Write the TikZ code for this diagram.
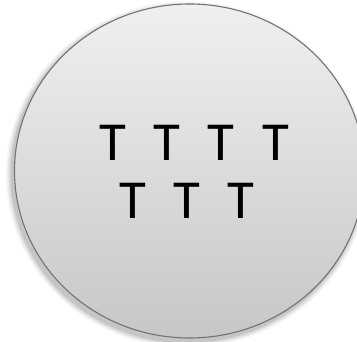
\documentclass[tikz,border=0pt]{standalone}
\usepackage{fontspec}
\setmainfont{Carlito}
\newcommand{\widesp}{\spaceskip=27.4pt\relax}
\begin{document}
\begin{tikzpicture}[x=1pt,y=-1pt,
  shadowring/.style={fill=black,draw=none},
  bubble/.style={draw=black!55,line width=1.1pt,top color=black!6,bottom color=black!22},
  tlabel/.style={inner sep=0pt,anchor=base west,font=\fontsize{55}{58}\selectfont}]
\useasboundingbox (0,0) rectangle (357,342);
\clip (0,0) rectangle (357,342);
% soft shadow
\foreach \d/\o in {6/0.04,4.5/0.05,3/0.07,1.5/0.09}{
  \fill[shadowring,opacity=\o] (187,174.5) ellipse ({175+\d} and {167+\d});
}
\path[bubble] (189.5,171) ellipse (175 and 167);
\node[tlabel] (row1) at (99.3,161) {\widesp T T T T};
\node[tlabel] (row2) at (119.3,219) {\widesp T T T};
\end{tikzpicture}
\end{document}
